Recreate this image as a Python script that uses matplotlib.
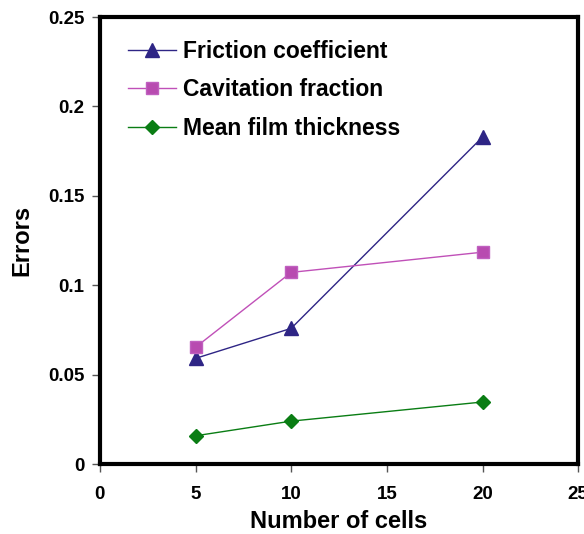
import matplotlib.pyplot as plt

plt.rcParams['font.family'] = ['Liberation Sans', 'DejaVu Sans']
plt.rcParams['font.weight'] = 'bold'

cells = [5, 10, 20]
friction = [0.0591, 0.0759, 0.1829]
cavitation = [0.0653, 0.1072, 0.1185]
film = [0.0158, 0.0240, 0.0347]

fig = plt.figure(figsize=(5.84, 5.34), dpi=100)
ax = fig.add_axes([0.171, 0.131, 0.819, 0.837])

ax.plot(cells, friction, color='#2e2585', lw=1, marker='^', ms=10, label='Friction coefficient')
ax.plot(cells, cavitation, color='#c050b8', lw=1, marker='s', ms=9, markerfacecolor='#b84bb0',
        markeredgecolor='#c060c0', label='Cavitation fraction')
ax.plot(cells, film, color='#0a7d14', lw=1, marker='D', ms=7, label='Mean film thickness')

ax.set_xlim(0, 25)
ax.set_ylim(0, 0.25)
ax.set_xticks([0, 5, 10, 15, 20, 25])
ax.set_yticks([0, 0.05, 0.1, 0.15, 0.2, 0.25])
ax.set_yticklabels(['0', '0.05', '0.1', '0.15', '0.2', '0.25'])
ax.tick_params(direction='out', length=6, width=1, color='#555555', labelsize=13.5)
ax.tick_params(axis='x', pad=10)
ax.tick_params(axis='y', pad=5)
for lbl in ax.get_xticklabels() + ax.get_yticklabels():
    lbl.set_fontweight('bold')
for sp in ax.spines.values():
    sp.set_linewidth(3)

ax.set_xlabel('Number of cells', fontsize=17, fontweight='bold', labelpad=5)
ax.set_ylabel('Errors', fontsize=17, fontweight='bold', labelpad=11)

ax.legend(loc='upper left', frameon=False, handlelength=2.1, handletextpad=0.3,
          bbox_to_anchor=(0.021, 0.99), borderaxespad=0.4, labelspacing=0.68,
          prop={'weight': 'bold', 'size': 16.5})

fig.savefig('out.png', dpi=100)
